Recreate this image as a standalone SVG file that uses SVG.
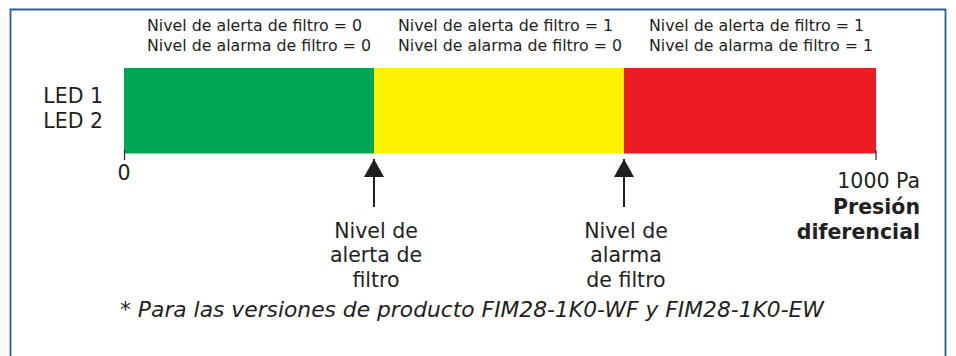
<svg xmlns="http://www.w3.org/2000/svg" width="956" height="356" viewBox="0 0 956 356">
<style>
text{font-family:"DejaVu Sans","Verdana",sans-serif;fill:#231f20}
.s{font-size:15.8px}
.b{font-size:20.5px}
.bold{font-weight:bold}
.c{text-anchor:middle}
.e{text-anchor:end}
.foot{font-size:21.8px;font-style:italic}
.tick{stroke:#231f20;stroke-width:1.2}
.arr{stroke:#231f20;stroke-width:2}
</style>
<defs>
<marker id="ah" markerWidth="20" markerHeight="18" refX="10" refY="0" orient="0" markerUnits="userSpaceOnUse" viewBox="0 0 20 18">
<path d="M10,0 L20,18 L0,18 Z" fill="#231f20"/>
</marker>
</defs>
<rect width="956" height="356" fill="#fff"/>
<path d="M10.5,360 V9.5 H945.5 V360" fill="none" stroke="#1f5f99" stroke-width="1.8"/>
<g id="states">
<text class="s" x="147" y="31">Nivel de alerta de filtro = 0</text>
<text class="s" x="147" y="51">Nivel de alarma de filtro = 0</text>
<text class="s" x="398" y="31">Nivel de alerta de filtro = 1</text>
<text class="s" x="398" y="51">Nivel de alarma de filtro = 0</text>
<text class="s" x="649" y="31">Nivel de alerta de filtro = 1</text>
<text class="s" x="649" y="51">Nivel de alarma de filtro = 1</text>
</g>
<g id="leds">
<text class="b e" x="103" y="103">LED 1</text>
<text class="b e" x="103" y="128">LED 2</text>
</g>
<g id="bar">
<rect id="green" x="124" y="68" width="250" height="85.5" fill="#00a651"/>
<rect id="yellow" x="374" y="68" width="250" height="85.5" fill="#fff200"/>
<rect id="red" x="624" y="68" width="252" height="85.5" fill="#ed1c24"/>
</g>
<g id="scale">
<line class="tick" x1="124.5" y1="150" x2="124.5" y2="160"/>
<line class="tick" x1="876" y1="150" x2="876" y2="160"/>
<text class="b c" x="124" y="180">0</text>
<text class="b e" x="920" y="188">1000 Pa</text>
<text class="b e bold" x="920" y="214">Presión</text>
<text class="b e bold" x="920" y="239">diferencial</text>
</g>
<g id="connectors">
<line class="arr" x1="374" y1="207" x2="374" y2="159" marker-end="url(#ah)"/>
<line class="arr" x1="624" y1="207" x2="624" y2="159" marker-end="url(#ah)"/>
</g>
<g id="alert-label">
<text class="b c" x="376" y="238">Nivel de</text>
<text class="b c" x="376" y="262">alerta de</text>
<text class="b c" x="376" y="287">filtro</text>
</g>
<g id="alarm-label">
<text class="b c" x="626" y="238">Nivel de</text>
<text class="b c" x="626" y="262">alarma</text>
<text class="b c" x="626" y="287">de filtro</text>
</g>
<g id="footnote">
<text class="foot c" x="472" y="317">* Para las versiones de producto FIM28-1K0-WF y FIM28-1K0-EW</text>
</g>
</svg>
